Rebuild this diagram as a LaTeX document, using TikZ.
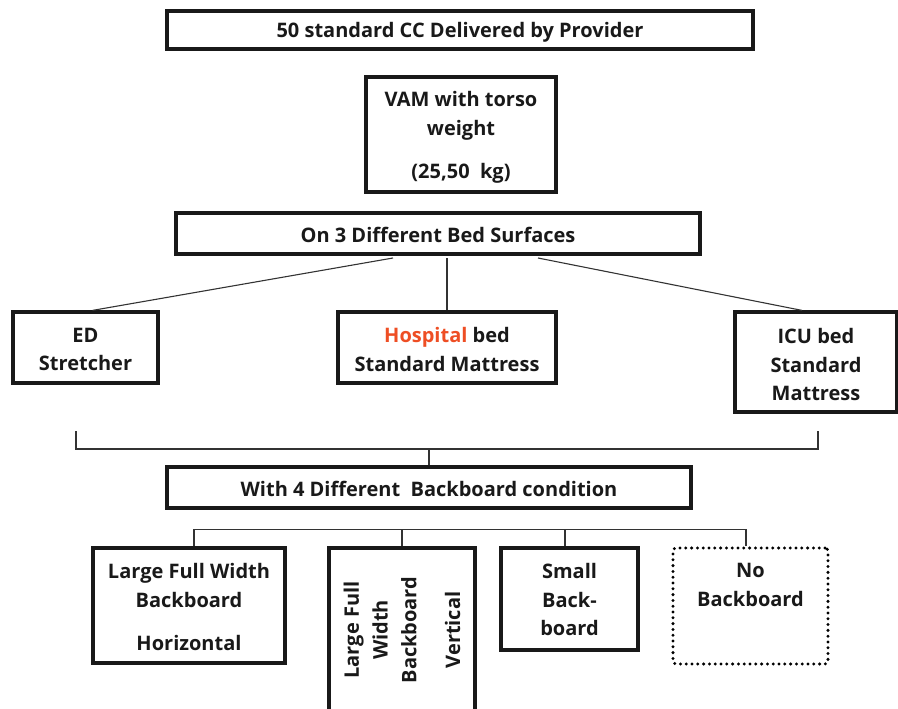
\documentclass[tikz,border=0pt]{standalone}
\usepackage{fontspec}
\setmainfont{Open Sans}
\definecolor{hospred}{HTML}{EE4E24}
\definecolor{linkgray}{HTML}{333333}
\begin{document}
\begin{tikzpicture}[x=1pt,y=1pt,
  every node/.style={font=\bfseries\fontsize{20}{28.8}\selectfont, text=black!90, align=center, inner sep=0pt},
  box/.style={draw=black!90, line width=3.2pt, minimum width=#1},
  dotbox/.style={draw=black, line width=3.3pt, dash pattern=on 0pt off 5.8pt, line cap=round, rounded corners=3pt},
  link/.style={draw=linkgray, line width=1.1pt}]
\useasboundingbox (0,0) rectangle (898,-709);

\node[box=586, minimum height=38] (top) at (460,-30) {};
\node (topt) at (460,-32.5) {50 standard CC Delivered by Provider};
\node[box=190, minimum height=115] (vam) at (461,-134.5) {};
\node (vamt) at (461,-137.5) {VAM with torso\\weight\\[14pt](25,50\ \ kg)};
\node[box=524, minimum height=41] (surf) at (438,-233.5) {};
\node (surft) at (438,-234.5) {On 3 Different Bed Surfaces};

\node[box=145, minimum height=71] (ed) at (85.5,-347.5) {};
\node (edt) at (85.5,-349.5) {ED\\Stretcher};
\node[box=218, minimum height=71] (hosp) at (447,-347.5) {};
\node (hospt) at (447,-349.5) {{\color{hospred}Hospital} bed\\Standard Mattress};
\node[box=162, minimum height=100] (icu) at (816,-362) {};
\node (icut) at (816,-364.5) {ICU bed\\Standard\\Mattress};

\node[box=524, minimum height=41] (with) at (429,-487.5) {};
\node (witht) at (429,-488.5) {With 4 Different\ \ Backboard condition};

\node[box=192, minimum height=115] (lfwh) at (189,-605.5) {};
\node (lfwht) at (189,-607) {Large Full Width\\Backboard\\[15pt]Horizontal};
\node[box=146, minimum height=172] (lfwv) at (402,-634) {};
\node[rotate=90] (lfwvt) at (402,-630) {Large Full\\Width\\Backboard\\[15pt]Vertical};
\node[box=137, minimum height=102] (small) at (569.5,-599) {};
\node (smallt) at (569.5,-599.5) {Small\\Back-\\board};
\node[dotbox, minimum width=155, minimum height=116] (nob) at (750.5,-606) {};
\node (nobt) at (750.5,-585) {No\\Backboard};

% connectors from bed surfaces
\coordinate (s1) at (393,-258);
\coordinate (s2) at (447,-258);
\coordinate (s3) at (538,-258);
\draw[link] (s1) -- ([xshift=7pt]ed.north);
\draw[link] (s2) -- (hosp.north);
\draw[link] (s3) -- ([xshift=-14pt]icu.north);

% bracket joining bed surfaces
\coordinate (bl) at (76,-431);
\coordinate (br) at (818,-431);
\draw[link] (bl) -- (76,-449) -- (818,-449) -- (br);
\draw[link] (429,-449) -- (with.north);

% bottom bracket
\draw[link] ([xshift=5pt]lfwh.north) |- ([xshift=-4.5pt,yshift=17pt]nob.north) -- ([xshift=-4.5pt]nob.north);
\draw[link] (lfwv.north) -- ++(0,17);
\draw[link] ([xshift=-4.5pt]small.north) -- ++(0,17);
\end{tikzpicture}
\end{document}
